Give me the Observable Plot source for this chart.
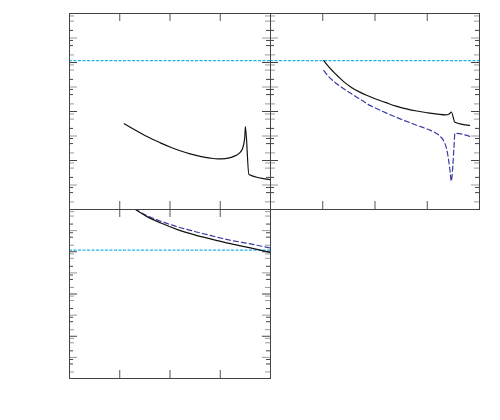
<!DOCTYPE html>
<html>
<head>
<meta charset="utf-8">
<script src="https://cdn.jsdelivr.net/npm/d3@7"></script>
<script src="https://cdn.jsdelivr.net/npm/@observablehq/plot@0.6"></script>
<style>
  html, body { margin: 0; padding: 0; background: white; }
  #wrap { position: relative; width: 500px; height: 420px; overflow: hidden; }
  #wrap svg { position: absolute; }
</style>
</head>
<body>
<div id="wrap"></div>
<script>
// ---- data ----
const xDomain = [0, 4];
const yDomain = [0, 8];
const xTicks = [1, 2, 3];
const tickOffsets = [0, 0.69, 0.9, 1.31];
const darkBases = [0, 2, 4, 6];
const greyBases = [-1, 1, 3, 5, 7];
const refLevel = 6.08;

// panel 1 (top left): solid
const p1x = [1.09, 1.2, 1.35, 1.5, 1.65, 1.8, 2.0, 2.2, 2.4, 2.6, 2.8, 2.95, 3.1, 3.22, 3.32, 3.39, 3.44, 3.47, 3.49, 3.50, 3.57, 3.99];
const p1y = [3.50, 3.37, 3.19, 3.02, 2.87, 2.73, 2.55, 2.40, 2.27, 2.17, 2.10, 2.07, 2.08, 2.13, 2.21, 2.32, 2.47, 2.70, 3.00, 3.38, 1.43, 1.22];

// panel 2 (top right): solid and dashed
const p2sx = [1.02, 1.1, 1.2, 1.3, 1.4, 1.55, 1.7, 1.85, 2.0, 2.2, 2.4, 2.6, 2.8, 3.0, 3.2, 3.35, 3.42, 3.46, 3.53, 3.81];
const p2sy = [6.08, 5.86, 5.63, 5.42, 5.22, 4.98, 4.80, 4.65, 4.52, 4.37, 4.22, 4.11, 4.02, 3.95, 3.89, 3.86, 3.90, 3.98, 3.56, 3.43];
const p2dx = [1.02, 1.1, 1.2, 1.3, 1.4, 1.55, 1.7, 1.91, 2.1, 2.3, 2.48, 2.7, 2.9, 3.05, 3.15, 3.25, 3.32, 3.37, 3.41, 3.44, 3.46, 3.49, 3.51, 3.53, 3.82];
const p2dy = [5.67, 5.46, 5.25, 5.08, 4.93, 4.72, 4.52, 4.24, 4.05, 3.86, 3.70, 3.52, 3.36, 3.24, 3.14, 2.98, 2.78, 2.48, 2.00, 1.50, 1.16, 1.80, 2.50, 3.11, 2.98];

// panel 3 (bottom left): solid and dashed
const p3x  = [1.30, 1.55, 1.82, 2.15, 2.49, 2.82, 3.15, 3.6, 4.02];
const p3sy = [8.02, 7.65, 7.36, 7.05, 6.80, 6.60, 6.41, 6.18, 5.96];
const p3dy = [8.02, 7.70, 7.44, 7.18, 6.96, 6.76, 6.57, 6.37, 6.17];

// ---- helpers ----
const zip = (xs, ys) => xs.map((x, i) => ({x, y: ys[i]}));
const within = v => v >= yDomain[0] && v <= yDomain[1];
function tickSet(bases, major) {
  const out = [];
  for (const b of bases) for (const o of tickOffsets) {
    if ((o === 0) === major) { const v = b + o; if (within(v)) out.push(v); }
  }
  return out;
}
const M = 10;
function yTickMarks(W, side) {
  const marks = [];
  const sets = [
    [tickSet(greyBases, true), "#999", 8],
    [tickSet(greyBases, false), "#999", 5],
    [tickSet(darkBases, true), "#444", 8],
    [tickSet(darkBases, false), "#444", 4]
  ];
  for (const [vals, color, len] of sets) {
    const opts = {y: d => d, stroke: color, strokeWidth: 1};
    if (side === "left") opts.insetRight = W - len; else opts.insetLeft = W - len;
    marks.push(Plot.tickY(vals, opts));
  }
  return marks;
}
function xTickMarks(H) {
  return [
    Plot.tickX(xTicks, {x: d => d, insetBottom: H - 8, stroke: "#555"}),
    Plot.tickX(xTicks, {x: d => d, insetTop: H - 8, stroke: "#555"})
  ];
}
function panel(left, top, W, H, lines) {
  const svg = Plot.plot({
    width: W + 2 * M, height: H + 2 * M,
    marginLeft: M, marginRight: M, marginTop: M, marginBottom: M,
    style: {background: "transparent", overflow: "visible"},
    x: {domain: xDomain, axis: null},
    y: {domain: yDomain, axis: null},
    marks: [
      ...yTickMarks(W, "left"),
      ...yTickMarks(W, "right"),
      ...xTickMarks(H),
      Plot.ruleY([refLevel], {stroke: "#1eb4ea", strokeWidth: 1.2, strokeDasharray: "3,1.5", clip: true}),
      ...lines,
      Plot.frame({stroke: "#444", strokeWidth: 1})
    ]
  });
  svg.style.left = (left - M) + "px";
  svg.style.top = (top - M) + "px";
  document.getElementById("wrap").appendChild(svg);
}
const solid = d => Plot.line(d, {x: "x", y: "y", stroke: "#111", strokeWidth: 1.2, curve: "monotone-x", clip: true});
const dashed = d => Plot.line(d, {x: "x", y: "y", stroke: "#3b3ba6", strokeWidth: 1.2, strokeDasharray: "5,3", curve: "monotone-x", clip: true});

panel(69, 13, 201, 196, [solid(zip(p1x, p1y))]);
panel(270, 13, 209, 196, [dashed(zip(p2dx, p2dy)), solid(zip(p2sx, p2sy))]);
panel(69, 209, 201, 169, [dashed(zip(p3x, p3dy)), solid(zip(p3x, p3sy))]);
</script>
</body>
</html>
